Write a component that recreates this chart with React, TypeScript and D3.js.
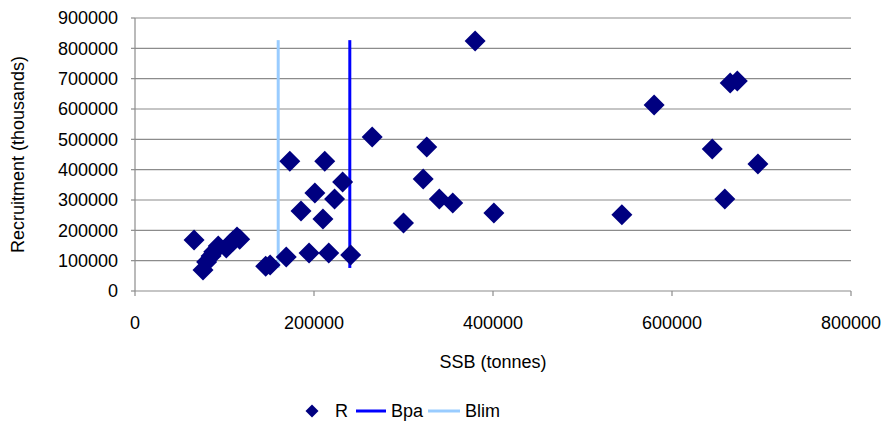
import React from "react";
import * as d3 from "d3";

const ssb = [
  66000, 76000, 80000, 85000, 88000, 93000, 102000, 106000, 109500, 114000, 117000,
  146000, 151000, 169000, 173000, 185500, 194500, 201000, 210000, 212000, 216500, 223000, 232000, 241000,
  265000, 300000, 322000, 326000, 340000, 355000, 380000, 401000,
  544000, 580000, 645000, 659000, 665000, 673000, 696000,
];
const recruitment = [
  168000, 69000, 96000, 115000, 129000, 148000, 142000, 155000, 165000, 178000, 171000,
  82000, 86000, 112000, 428000, 264000, 125000, 323000, 237000, 428000, 125000, 303000, 359000, 119000,
  508000, 224000, 369000, 475000, 303000, 290000, 824000, 257000,
  251000, 613000, 468000, 303000, 686000, 692000, 419000,
];
const bpaX = [240000, 240000];
const bpaY = [76000, 827000];
const blimX = [160000, 160000];
const blimY = [76000, 827000];
const xTicks = [0, 200000, 400000, 600000, 800000];
const yTicks = [0, 100000, 200000, 300000, 400000, 500000, 600000, 700000, 800000, 900000];

const W = 888;
const H = 421;
const FONT = "'Liberation Sans', Arial, sans-serif";
const NAVY = "#000080";
const BPA = "#0000FF";
const BLIM = "#99CCFF";
const FS = 18;

export default function App() {
  const x = d3.scaleLinear().domain([0, 800000]).range([135, 851]);
  const y = d3.scaleLinear().domain([0, 900000]).range([291, 18]);
  const diamond = (cx: number, cy: number, r: number) =>
    `M${cx},${cy - r}L${cx + r},${cy}L${cx},${cy + r}L${cx - r},${cy}Z`;
  const line = d3
    .line<[number, number]>()
    .x((d) => x(d[0]))
    .y((d) => y(d[1]));
  const bpa = bpaX.map((v, i) => [v, bpaY[i]] as [number, number]);
  const blim = blimX.map((v, i) => [v, blimY[i]] as [number, number]);
  const [x0, x1] = x.range();
  const [y0, y1] = y.range();
  const legY = 411;

  return (
    <svg
      width={W}
      height={H}
      style={{ position: "absolute", left: 0, top: 0, background: "#fff" }}
      fontFamily={FONT}
    >
      <rect width={W} height={H} fill="#fff" />
      {yTicks.map((t) => (
        <g key={t}>
          {t > 0 && (
            <line x1={x0} x2={x1} y1={y(t)} y2={y(t)} stroke="#8c8c8c" strokeWidth={1.2} />
          )}
          <line x1={x0 - 4} x2={x0} y1={y(t)} y2={y(t)} stroke="#8c8c8c" strokeWidth={1.2} />
          <text x={118} y={y(t)} dy="0.35em" textAnchor="end" fontSize={FS} fill="#000">
            {t}
          </text>
        </g>
      ))}
      <line x1={x0} x2={x0} y1={y1} y2={y0} stroke="#8c8c8c" strokeWidth={1.2} />
      <line x1={x0} x2={x1} y1={y0} y2={y0} stroke="#8c8c8c" strokeWidth={1.2} />
      {xTicks.map((t) => (
        <g key={t}>
          <line x1={x(t)} x2={x(t)} y1={y0} y2={y0 + 5} stroke="#8c8c8c" strokeWidth={1.2} />
          <text x={x(t)} y={323} dy="0.35em" textAnchor="middle" fontSize={FS} fill="#000">
            {t}
          </text>
        </g>
      ))}
      <text
        x={(x0 + x1) / 2}
        y={362}
        dy="0.35em"
        textAnchor="middle"
        fontSize={FS}
        fill="#000"
      >
        SSB (tonnes)
      </text>
      <text
        transform={`translate(18,${(y0 + y1) / 2}) rotate(-90)`}
        dy="0.35em"
        textAnchor="middle"
        fontSize={FS}
        fill="#000"
      >
        Recruitment (thousands)
      </text>
      <path d={line(blim) || ""} stroke={BLIM} strokeWidth={3} fill="none" />
      <path d={line(bpa) || ""} stroke={BPA} strokeWidth={3} fill="none" />
      {ssb.map((s, i) => (
        <path key={i} d={diamond(x(s), y(recruitment[i]), 10.5)} fill={NAVY} />
      ))}
      <g>
        <path d={diamond(312, legY, 6.5)} fill={NAVY} />
        <text x={335} y={legY} dy="0.35em" fontSize={FS} fill="#000">R</text>
        <line x1={356} x2={386} y1={legY} y2={legY} stroke={BPA} strokeWidth={3} />
        <text x={391} y={legY} dy="0.35em" fontSize={FS} fill="#000">Bpa</text>
        <line x1={428} x2={460} y1={legY} y2={legY} stroke={BLIM} strokeWidth={3} />
        <text x={465} y={legY} dy="0.35em" fontSize={FS} fill="#000">Blim</text>
      </g>
    </svg>
  );
}
